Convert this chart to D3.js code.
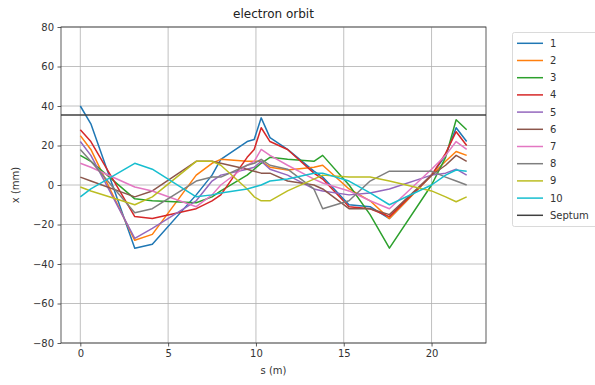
<!DOCTYPE html>
<html>
<head>
<meta charset="utf-8">
<script src="https://cdn.jsdelivr.net/npm/d3@7"></script>
<style>
  body { margin: 0; background: #fff; }
  svg { font-family: 'DejaVu Sans', sans-serif; }
</style>
</head>
<body>
<svg width="595" height="385"></svg>
<script>
// BPM positions along the line (m)
let sPos = [0, 0.6, 3.1, 4.1, 6.6, 7.5, 8.0, 9.5, 9.9, 10.3, 10.8, 11.8, 13.3, 13.8, 15.3, 16.5, 17.6, 20.0, 20.8, 21.4, 22.0];

// orbit readings (mm), one array per shot
let orbit1  = [40, 31, -32, -30, -5, 5, 13, 22, 23, 34, 24, 18, 7, 4, -10, -11, -17, 5, 15, 29, 22];
let orbit2  = [25, 18, -28, -25, 5, 11, 13, 12, 12, 12, 9, 7.6, 9, 10, -2, -8, -17, 5, 12, 17, 15];
let orbit3  = [15, 12, -7, -8, -9, -6, -3, 5, 8, 11, 14, 13, 12, 15, 0, -15, -32, 0, 14, 33, 28];
let orbit4  = [28, 22, -16, -17, -12, -8, -5, 14, 18, 29, 22, 18, 6, 3, -11, -12, -16, 5, 16, 27, 20];
let orbit5  = [22, 15, -27, -22, -8, 2, 5, 8, 9, 12, 8, 5, -2, -3, -5, -4, -2, 5, 6, 8, 5];
let orbit6  = [4, 2, -6, -3, 12, 12, 11, 8, 7, 6, 6, 2, 0, -2, -12, -12, -15, 5, 10, 15, 12];
let orbit7  = [11, 9, -1, -3, -11, -5, 0, 10, 12, 18, 15, 10, 3, 1, -3, -8, -12, 8, 15, 22, 18];
let orbit8  = [18, 12, -14, -12, 2, 4, 4, 10, 11, 13, 10, 8, -2, -12, -8, 2, 7, 7, 4, 2, 0];
let orbit9  = [-1, -3, -10, -6, 12, 12, 10, -2, -6, -8, -8, -3, 3, 5, 4, 4, 2, -3, -6, -8.5, -6];
let orbit10 = [-6, -2, 11, 8, -6, -5, -4, -2, -1, 0, 2, 3, 6, 6, 2, -4, -10, 0, 5, 7.6, 7];

let orbits = [orbit1, orbit2, orbit3, orbit4, orbit5, orbit6, orbit7, orbit8, orbit9, orbit10];
let names = ['1', '2', '3', '4', '5', '6', '7', '8', '9', '10'];
let septumX = 35.5;

let xTicks = [0, 5, 10, 15, 20];
let yTicks = [-80, -60, -40, -20, 0, 20, 40, 60, 80];

let colors = ['#1f77b4', '#ff7f0e', '#2ca02c', '#d62728', '#9467bd',
              '#8c564b', '#e377c2', '#7f7f7f', '#bcbd22', '#17becf'];
let septumColor = '#404040';

let svg = d3.select('svg');
let pLeft = 61, pRight = 486, pTop = 27, pBottom = 343;

let x = d3.scaleLinear().domain([-1.1, 23.1]).range([pLeft, pRight]);
let y = d3.scaleLinear().domain([-80, 80]).range([pBottom, pTop]);

// grid
svg.append('g').selectAll('line')
  .data(xTicks).enter().append('line')
  .attr('x1', d => x(d)).attr('x2', d => x(d))
  .attr('y1', pTop).attr('y2', pBottom)
  .attr('stroke', '#b0b0b0').attr('stroke-width', 0.8);
svg.append('g').selectAll('line')
  .data(yTicks).enter().append('line')
  .attr('x1', pLeft).attr('x2', pRight)
  .attr('y1', d => y(d)).attr('y2', d => y(d))
  .attr('stroke', '#b0b0b0').attr('stroke-width', 0.8);

// orbit lines
let line = d3.line()
  .x((d, i) => x(sPos[i]))
  .y(d => y(d));

svg.append('g').selectAll('path')
  .data(orbits).enter().append('path')
  .attr('d', line)
  .attr('fill', 'none')
  .attr('stroke', (d, i) => colors[i])
  .attr('stroke-width', 1.5)
  .attr('stroke-linejoin', 'round');

// septum
svg.append('line')
  .attr('x1', pLeft).attr('x2', pRight)
  .attr('y1', y(septumX)).attr('y2', y(septumX))
  .attr('stroke', septumColor).attr('stroke-width', 1.5);

// frame
svg.append('rect')
  .attr('x', pLeft).attr('y', pTop)
  .attr('width', pRight - pLeft).attr('height', pBottom - pTop)
  .attr('fill', 'none').attr('stroke', '#333').attr('stroke-width', 0.8);

// axes
let xAxis = d3.axisBottom(x).tickValues(xTicks).tickSize(3.5).tickPadding(3.5);
let yAxis = d3.axisLeft(y).tickValues(yTicks).tickSize(3.5).tickPadding(3.5)
  .tickFormat(d => d < 0 ? '\u2212' + Math.abs(d) : d);

let gx = svg.append('g').attr('transform', `translate(0,${pBottom})`).call(xAxis);
let gy = svg.append('g').attr('transform', `translate(${pLeft},0)`).call(yAxis);
[gx, gy].forEach(g => {
  g.select('.domain').remove();
  g.selectAll('line').attr('stroke', '#333').attr('stroke-width', 0.8);
  g.selectAll('text').attr('fill', '#333').style('font-size', '10px').style('font-family', 'DejaVu Sans');
});

// labels
svg.append('text')
  .attr('x', (pLeft + pRight) / 2).attr('y', 18)
  .attr('text-anchor', 'middle')
  .style('font-size', '12px').attr('fill', '#222')
  .text('electron orbit');

svg.append('text')
  .attr('x', (pLeft + pRight) / 2).attr('y', 374)
  .attr('text-anchor', 'middle')
  .style('font-size', '10px').attr('fill', '#333')
  .text('s (m)');

svg.append('text')
  .attr('transform', `translate(19,${(pTop + pBottom) / 2})rotate(-90)`)
  .attr('text-anchor', 'middle')
  .style('font-size', '10px').attr('fill', '#333')
  .text('x (mm)');

// legend
let legendNames = names.concat(['Septum']);
let legendColors = colors.concat([septumColor]);

svg.append('rect')
  .attr('x', 512.5).attr('y', 32.5)
  .attr('width', 100).attr('height', 194)
  .attr('rx', 2)
  .attr('fill', '#fff').attr('stroke', '#d0d0d0').attr('stroke-width', 0.8);

let legend = svg.append('g').selectAll('g')
  .data(legendNames).enter().append('g')
  .attr('transform', (d, i) => `translate(0,${43.3 + i * 17.2})`);

legend.append('line')
  .attr('x1', 517).attr('x2', 543)
  .attr('stroke', (d, i) => legendColors[i])
  .attr('stroke-width', 1.5);

legend.append('text')
  .attr('x', 550).attr('dy', '0.35em')
  .style('font-size', '10px').attr('fill', '#333')
  .text(d => d);
</script>
</body>
</html>
